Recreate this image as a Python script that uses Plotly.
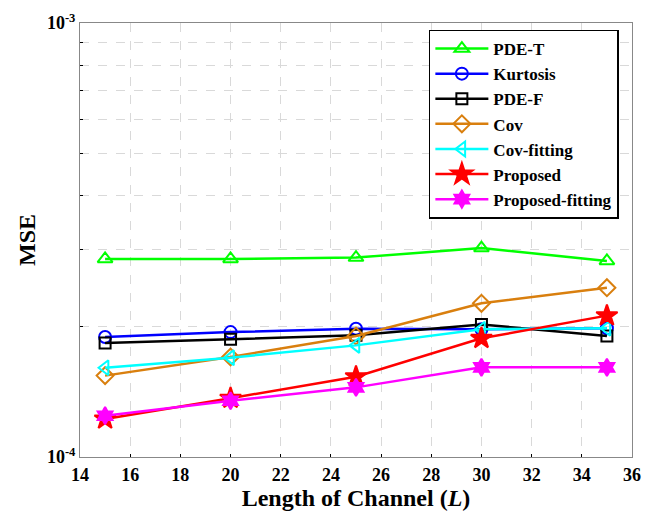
import plotly.graph_objects as go

L = [15, 20, 25, 30, 35]
pde_t = [2.86e-4, 2.86e-4, 2.88e-4, 3.03e-4, 2.83e-4]
kurtosis = [1.89e-4, 1.94e-4, 1.975e-4, 1.97e-4, 1.98e-4]
pde_f = [1.83e-4, 1.867e-4, 1.907e-4, 2.02e-4, 1.90e-4]
cov = [1.54e-4, 1.70e-4, 1.90e-4, 2.26e-4, 2.455e-4]
cov_fit = [1.606e-4, 1.694e-4, 1.808e-4, 1.969e-4, 1.98e-4]
proposed = [1.224e-4, 1.366e-4, 1.531e-4, 1.877e-4, 2.117e-4]
proposed_fit = [1.245e-4, 1.348e-4, 1.447e-4, 1.609e-4, 1.609e-4]

x_ticks = list(range(14, 37, 2))
y_ticks = [1e-4, 1e-3]
y_ticktext = ["10<sup>-4</sup>", "10<sup>-3</sup>"]
y_minor = [k * 1e-4 for k in range(2, 10)]

series = [
    ("PDE-T", pde_t, "#00ff00", "triangle-up-open", 13),
    ("Kurtosis", kurtosis, "#0000ff", "circle-open", 12),
    ("PDE-F", pde_f, "#000000", "square-open", 11),
    ("Cov", cov, "#d97f0e", "diamond-open", 13),
    ("Cov-fitting", cov_fit, "#00ffff", "triangle-left-open", 13),
    ("Proposed", proposed, "#ff0000", "star", 16),
    ("Proposed-fitting", proposed_fit, "#ff00ff", "hexagram", 13),
]

font_family = "Liberation Serif, Times New Roman, serif"

fig = go.Figure()
for name, ys, color, sym, size in series:
    fig.add_trace(go.Scatter(
        x=L, y=ys, name=name, mode="lines+markers",
        line=dict(color=color, width=2.5),
        marker=dict(symbol=sym, size=size, color=color,
                    line=dict(color=color, width=2)),
    ))

fig.update_layout(
    width=654, height=513,
    margin=dict(l=80, r=22, t=23, b=56),
    paper_bgcolor="white", plot_bgcolor="white",
    font=dict(family=font_family, size=18, color="black"),
    showlegend=True,
    legend=dict(
        x=0.632, y=0.985, xanchor="left", yanchor="top",
        bgcolor="white", bordercolor="black", borderwidth=1.5,
        font=dict(family=font_family, size=17, color="black", weight="bold"),
        itemwidth=53, tracegroupgap=0,
    ),
    xaxis=dict(
        range=[14, 36], tickvals=x_ticks, ticks="inside", ticklen=3,
        tickcolor="black", ticklabelstandoff=1, automargin=False,
        showgrid=True, gridcolor="#d9d9d9", griddash="dash", gridwidth=1,
        showline=True, linecolor="#888888", linewidth=1, mirror=True,
        zeroline=False,
        tickfont=dict(family=font_family, size=18, color="black", weight="bold"),
        title=dict(text="Length of Channel (<i>L</i>)", standoff=1,
                   font=dict(family=font_family, size=24, color="black", weight="bold")),
    ),
    yaxis=dict(
        type="log", range=[-4, -3], tickvals=y_ticks, ticktext=y_ticktext,
        ticks="inside", ticklen=3, tickcolor="black", automargin=False,
        showgrid=True, gridcolor="#d9d9d9", griddash="dash", gridwidth=1,
        minor=dict(tickvals=y_minor, showgrid=True, gridcolor="#d9d9d9",
                   griddash="dash", ticks="inside", ticklen=3, tickcolor="black"),
        showline=True, linecolor="#888888", linewidth=1, mirror=True,
        tickfont=dict(family=font_family, size=18, color="black", weight="bold"),
        title=dict(text="MSE", standoff=4,
                   font=dict(family=font_family, size=24, color="black", weight="bold")),
    ),
)

fig.write_html("out.html")
